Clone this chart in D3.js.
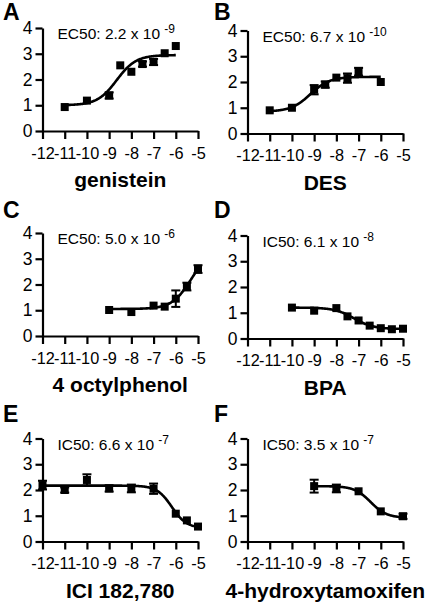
<!DOCTYPE html>
<html>
<head>
<meta charset="utf-8">
<script src="https://cdn.jsdelivr.net/npm/d3@7"></script>
<style>
  html, body { margin: 0; padding: 0; background: #fff; }
  svg { display: block; }
  text { font-family: "Liberation Sans", Arial, Helvetica, sans-serif; fill: #000; }
</style>
</head>
<body>
<svg id="chart" width="425" height="602"></svg>
<script>
// ---------- data ----------
const panelLetters = ["A", "B", "C", "D", "E", "F"];
const compounds = ["genistein", "DES", "4 octylphenol", "BPA", "ICI 182,780", "4-hydroxytamoxifen"];
const fitLabels = ["EC50: 2.2 x 10", "EC50: 6.7 x 10", "EC50: 5.0 x 10", "IC50: 6.1 x 10", "IC50: 6.6 x 10", "IC50: 3.5 x 10"];
const fitExponents = ["-9", "-10", "-6", "-8", "-7", "-7"];

const xTicks = [-12, -11, -10, -9, -8, -7, -6, -5];
const yTicks = [0, 1, 2, 3, 4];

const logDoseA = [-11, -10, -9, -8.5, -8, -7.5, -7, -6.5, -6];
const meanA    = [0.93, 1.18, 1.38, 2.55, 2.3, 2.6, 2.68, 3.02, 3.3];
const errA     = [0, 0, 0.12, 0, 0, 0.1, 0.12, 0, 0];

const logDoseB = [-11, -10, -9, -8.5, -8, -7.5, -7, -6];
const meanB    = [0.9, 1.0, 1.7, 1.9, 2.17, 2.15, 2.4, 2.0];
const errB     = [0, 0, 0.18, 0.12, 0, 0.18, 0.15, 0];

const logDoseC = [-9, -8, -7, -6.5, -6, -5.5, -5];
const meanC    = [1.01, 0.93, 1.18, 1.14, 1.45, 1.92, 2.6];
const errC     = [0, 0, 0, 0, 0.32, 0.15, 0.15];

const logDoseD = [-10, -9, -8, -7.5, -7, -6.5, -6, -5.5, -5];
const meanD    = [1.2, 1.08, 1.18, 0.86, 0.7, 0.5, 0.4, 0.36, 0.38];
const errD     = [0, 0, 0, 0, 0, 0, 0, 0, 0];

const logDoseE = [-12, -11, -10, -9, -8, -7, -6, -5.5, -5];
const meanE    = [2.19, 2.0, 2.39, 2.06, 2.06, 2.05, 1.08, 0.82, 0.58];
const errE     = [0.17, 0.1, 0.22, 0.12, 0.15, 0.2, 0, 0, 0];

const logDoseF = [-9, -8, -7, -6, -5];
const meanF    = [2.15, 2.06, 1.95, 1.17, 0.98];
const errF     = [0.25, 0.15, 0, 0, 0.1];

// fitted sigmoid parameters
const fitLowDose  = [1.0, 0.85, 1.05, 1.2, 2.17, 2.15];
const fitHighDose = [2.95, 2.2, 3.38, 0.37, 0.52, 0.92];
const fitLogMid   = [-8.66, -9.17, -5.3, -7.21, -6.18, -6.46];
const fitHill     = [1.0, 1.0, 1.0, 1.0, 1.3, 1.2];
const fitFrom     = [-11, -11, -9, -10, -12, -9];
const fitTo       = [-6, -6, -5, -5, -5, -5];

const doses  = [logDoseA, logDoseB, logDoseC, logDoseD, logDoseE, logDoseF];
const means  = [meanA, meanB, meanC, meanD, meanE, meanF];
const errors = [errA, errB, errC, errD, errE, errF];

// ---------- layout ----------
const colX = [42.5, 247.5];
const rowY0 = [[131, 133.5], [336, 338.5], [541.5, 541.5]];
const plotW = 155.5, plotH = 103;

const svg = d3.select("#chart");

panelLetters.forEach((letter, i) => {
  const col = i % 2, row = Math.floor(i / 2);
  const ox = colX[col], oy = rowY0[row][col];
  const g = svg.append("g").attr("transform", `translate(${ox},${oy - plotH})`);

  const x = d3.scaleLinear().domain([-12, -5]).range([0, plotW]);
  const y = d3.scaleLinear().domain([0, 4]).range([plotH, 0]);

  // axes
  const yAxis = d3.axisLeft(y).tickValues(yTicks).tickFormat(d3.format("d"))
    .tickSize(7).tickSizeOuter(0).tickPadding(3);
  const xAxis = d3.axisBottom(x).tickValues(xTicks).tickFormat(d => String(d))
    .tickSize(8).tickSizeOuter(0).tickPadding(8);

  const gy = g.append("g").call(yAxis);
  const gx = g.append("g").attr("transform", `translate(0,${plotH})`).call(xAxis);
  [gx, gy].forEach(a => {
    a.selectAll("path.domain").attr("stroke", "#000").attr("stroke-width", 2.2);
    a.selectAll(".tick line").attr("stroke", "#000").attr("stroke-width", 2.2);
    a.selectAll("text").attr("font-family", "Liberation Sans, Arial, sans-serif").attr("fill", "#000");
  });
  gx.selectAll("text").attr("font-size", 16.3);
  gy.selectAll("text").attr("font-size", 17.5);

  // fitted curve
  const lo = fitLowDose[i], hi = fitHighDose[i], mid = fitLogMid[i], h = fitHill[i];
  const curveX = d3.range(0, 201).map(k => fitFrom[i] + (fitTo[i] - fitFrom[i]) * k / 200);
  const curve = curveX.map(cx => [cx, lo + (hi - lo) / (1 + Math.pow(10, (mid - cx) * h))]);
  g.append("path")
    .attr("d", d3.line().x(d => x(d[0])).y(d => y(d[1]))(curve))
    .attr("fill", "none").attr("stroke", "#000").attr("stroke-width", 2.6);

  // error bars
  const pts = doses[i].map((d, k) => ({ x: d, m: means[i][k], e: errors[i][k] }));
  const eb = g.append("g").attr("stroke", "#000").attr("stroke-width", 2);
  pts.filter(p => p.e > 0).forEach(p => {
    eb.append("line").attr("x1", x(p.x)).attr("x2", x(p.x)).attr("y1", y(p.m - p.e)).attr("y2", y(p.m + p.e));
    [p.m - p.e, p.m + p.e].forEach(v => {
      eb.append("line").attr("x1", x(p.x) - 4.5).attr("x2", x(p.x) + 4.5).attr("y1", y(v)).attr("y2", y(v));
    });
  });

  // markers
  g.append("g").selectAll("rect").data(pts).join("rect")
    .attr("x", p => x(p.x) - 4).attr("y", p => y(p.m) - 4)
    .attr("width", 8).attr("height", 8).attr("fill", "#000");

  // EC50 / IC50 label
  const t = g.append("text").attr("x", 15).attr("y", 11).attr("font-size", 15.5);
  t.append("tspan").text(fitLabels[i] + " ");
  t.append("tspan").attr("font-size", 12).attr("dy", -6).text(fitExponents[i]);

  // compound title
  g.append("text").attr("x", x(-8.5)).attr("y", plotH + 56)
    .attr("text-anchor", "middle").attr("font-size", 21).attr("font-weight", "bold")
    .text(compounds[i]);

  // panel letter
  svg.append("text").attr("x", col === 0 ? 3 : 214).attr("y", (row === 0 ? 20 : row === 1 ? 218 : 422))
    .attr("font-size", 23).attr("font-weight", "bold").text(letter);
});
</script>
</body>
</html>
